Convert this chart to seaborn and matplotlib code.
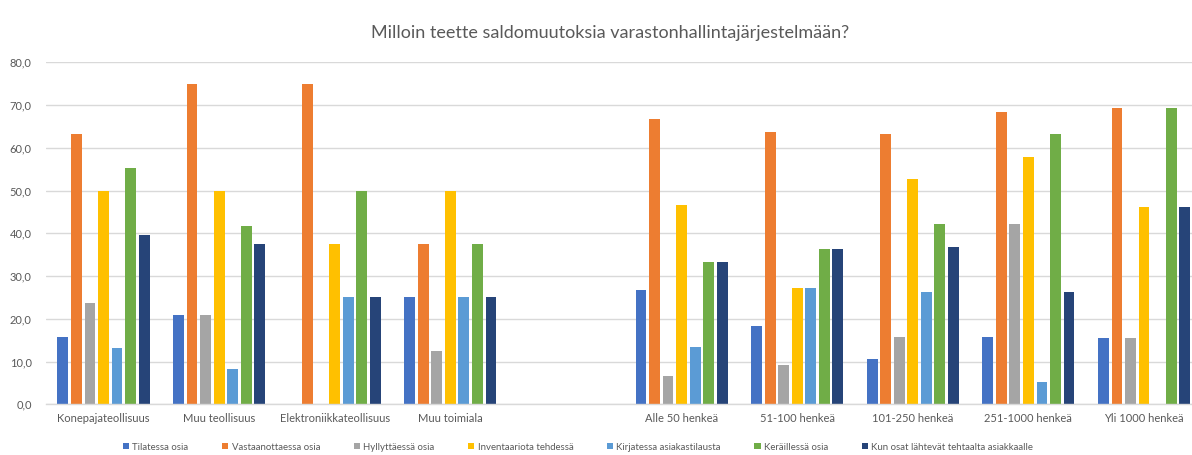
import numpy as np
import pandas as pd
import matplotlib
matplotlib.use("Agg")
import matplotlib.pyplot as plt
import seaborn as sns

categories = ["Konepajateollisuus", "Muu teollisuus", "Elektroniikkateollisuus", "Muu toimiala", " ",
              "Alle 50 henkeä", "51-100 henkeä", "101-250 henkeä", "251-1000 henkeä", "Yli 1000 henkeä"]
data_categories = [c for c in categories if c.strip()]

series = ["Tilatessa osia", "Vastaanottaessa osia", "Hyllyttäessä osia", "Inventaariota tehdessä",
          "Kirjatessa asiakastilausta", "Keräillessä osia", "Kun osat lähtevät tehtaalta asiakkaalle"]

tilatessa = [15.8, 20.8, 0.0, 25.0, 26.7, 18.2, 10.5, 15.8, 15.4]
vastaanottaessa = [63.2, 75.0, 75.0, 37.5, 66.7, 63.6, 63.2, 68.4, 69.2]
hyllyttaessa = [23.7, 20.8, 0.0, 12.5, 6.7, 9.1, 15.8, 42.1, 15.4]
inventaario = [50.0, 50.0, 37.5, 50.0, 46.7, 27.3, 52.6, 57.9, 46.2]
kirjatessa = [13.2, 8.3, 25.0, 25.0, 13.3, 27.3, 26.3, 5.3, 0.0]
keraillessa = [55.3, 41.7, 50.0, 37.5, 33.3, 36.4, 42.1, 63.2, 69.2]
lahtevat = [39.5, 37.5, 25.0, 25.0, 33.3, 36.4, 36.8, 26.3, 46.2]

colors = ["#4472C4", "#ED7D31", "#A5A5A5", "#FFC000", "#5B9BD5", "#70AD47", "#264478"]

values = [tilatessa, vastaanottaessa, hyllyttaessa, inventaario, kirjatessa, keraillessa, lahtevat]
rows = []
for name, vals in zip(series, values):
    for cat, v in zip(data_categories, vals):
        rows.append({"Ryhmä": cat, "Vaihe": name, "Osuus": v})
df = pd.DataFrame(rows)

sns.set_theme(style="white")
plt.rcParams["font.family"] = ["Lato", "DejaVu Sans"]

W, H = 1192, 455
fig = plt.figure(figsize=(W / 100, H / 100), dpi=100)
left_px, right_px = 45.7, 1192
top_px, bottom_px = 62.3, 404.3
ax = fig.add_axes([left_px / W, 1 - bottom_px / H, (right_px - left_px) / W, (bottom_px - top_px) / H])

sns.barplot(data=df, x="Ryhmä", y="Osuus", hue="Vaihe", order=categories, hue_order=series,
            palette=colors, width=0.82, gap=0.2, ax=ax, errorbar=None, saturation=1,
            linewidth=0, legend=True)

step = (1144 - 103.5) / 9
ax.set_xlim(-0.5, -0.5 + (right_px - left_px) / step)
ax.set_ylim(0, 80)
ax.set_yticks(np.arange(0, 81, 10))
ax.set_yticklabels([f"{v:.1f}".replace(".", ",") for v in np.arange(0, 81, 10)])
ax.yaxis.grid(True, color="#D9D9D9", linewidth=1)
ax.set_axisbelow(True)
for s in ["left", "right", "top"]:
    ax.spines[s].set_visible(False)
ax.spines["bottom"].set_color("#D9D9D9")
ax.spines["bottom"].set_linewidth(1)
ax.tick_params(axis="both", length=0, labelsize=8, labelcolor="#595959", pad=10)
ax.tick_params(axis="x", pad=6)
ax.set_xlabel("")
ax.set_ylabel("")

fig.text(610 / W, 1 - 33 / H, "Milloin teette saldomuutoksia varastonhallintajärjestelmään?",
         ha="center", va="center", fontsize=13, color="#595959")

handles, labels = ax.get_legend_handles_labels()
ax.legend_.remove()
fig.legend(handles, labels, loc="center", bbox_to_anchor=(578 / W, 1 - 447 / H), ncol=7,
           frameon=False, fontsize=6.9, labelcolor="#595959", handlelength=0.65, handleheight=0.65,
           handletextpad=0.35, columnspacing=3.5)

fig.savefig("out.png", dpi=100, facecolor="white")
